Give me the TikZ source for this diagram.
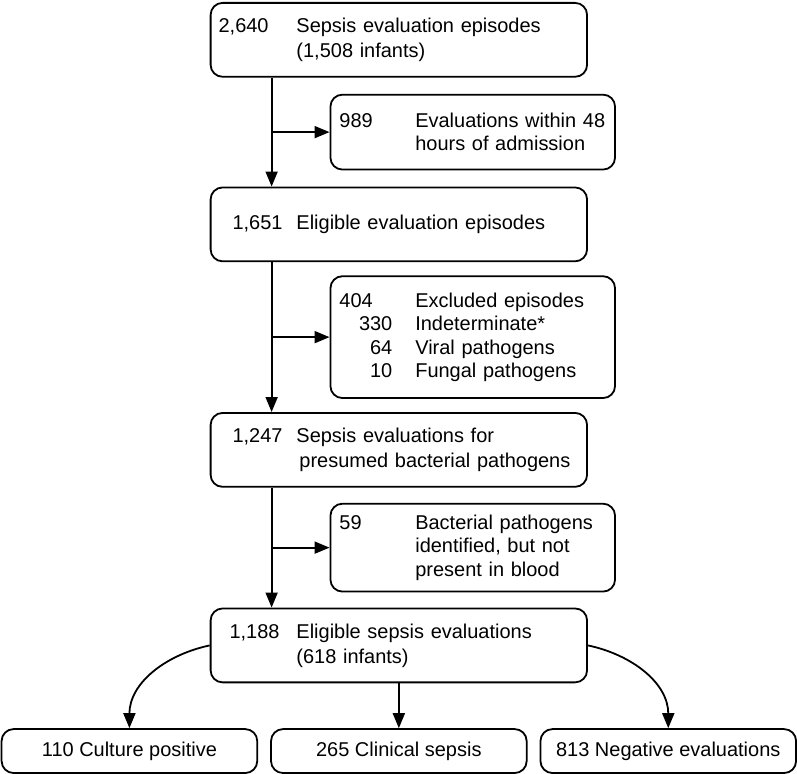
\documentclass[tikz,border=0pt]{standalone}
\usepackage{fontspec}
\setmainfont{Liberation Sans}
\usetikzlibrary{positioning, arrows.meta, calc}
\newcommand{\cnt}[1]{\makebox[39pt][l]{#1}}
\newcommand{\subcnt}[1]{\makebox[39pt][l]{\makebox[27.5pt][r]{#1}}}

\begin{document}
\begin{tikzpicture}[
node distance=1cm,
every node/.style={font=\fontsize{10}{12.5}\selectfont},
boxstyle/.style={draw, rounded corners=6pt, line width=0.9pt, align=left},
mainbox/.style={boxstyle, text width=180.5pt, inner xsep=4pt, minimum height=37pt},
sidebox/.style={boxstyle, text width=135.5pt, inner xsep=3.5pt, font=\fontsize{10}{11.75}\selectfont},
endbox/.style={boxstyle, minimum width=128pt, minimum height=22pt},
flow/.style={-{Triangle[length=7.5pt, width=6pt]}, line width=0.9pt}
]
% Main column
\node[mainbox] (n2640) {\cnt{2,640}Sepsis evaluation episodes\\\cnt{}(1,508 infants)};
\node[mainbox, below=54.5pt of n2640] (n1651) {\cnt{\hspace*{7pt}1,651}Eligible evaluation episodes};
\node[mainbox, below=75pt of n1651] (n1247) {\cnt{\hspace*{7pt}1,247}Sepsis evaluations for\\\cnt{}\hspace*{1.5pt}presumed bacterial pathogens};
\node[mainbox, below=60pt of n1247] (n1188) {\cnt{\hspace*{5.5pt}1,188}Eligible sepsis evaluations\\\cnt{}(618 infants)};
% Exclusions
\node[sidebox, minimum height=37.5pt, anchor=west] (n989) at ($(n2640.south west)!0.5!(n1651.north west)+(60pt,0)$) {\cnt{\hspace*{1pt}989}Evaluations within 48\\\cnt{}hours of admission};
\node[sidebox, minimum height=61pt, anchor=west] (n404) at ($(n1651.south west)!0.5!(n1247.north west)+(60pt,0)$) {\cnt{\hspace*{1pt}404}Excluded episodes\\\subcnt{330}Indeterminate*\\\subcnt{64}Viral pathogens\\\subcnt{10}Fungal pathogens};
\node[sidebox, minimum height=44pt, anchor=west] (n59) at ($(n1247.south west)!0.5!(n1188.north west)+(60pt,0)$) {\cnt{\hspace*{1pt}59}Bacterial pathogens\\\cnt{}identified, but not\\\cnt{}present in blood};
% Outcomes
\node[endbox, below=22.5pt of n1188] (n265) {265 Clinical sepsis};
\node[endbox, left=6pt of n265] (n110) {110 Culture positive};
\node[endbox, right=6pt of n265] (n813) {813 Negative evaluations};
% Connectors
\coordinate (trunk) at ($(n2640.south west)+(31pt,0)$);
\draw[flow] (trunk) -- (trunk |- n1651.north);
\draw[flow] (trunk |- n989.west) -- (n989.west);
\draw[flow] (trunk |- n1651.south) -- (trunk |- n1247.north);
\draw[flow] (trunk |- n404.west) -- (n404.west);
\draw[flow] (trunk |- n1247.south) -- (trunk |- n1188.north);
\draw[flow] (trunk |- n59.west) -- (n59.west);
\draw[flow] (n1188.west) to[out=192, in=90] (n110.north);
\draw[flow] (n1188.south) -- (n265.north);
\draw[flow] (n1188.east) to[out=-12, in=90] (n813.north);
\path[use as bounding box] ($(n2640.north west)+(-105pt,1pt)$) rectangle ($(n2640.north west)+(293.5pt,-382.5pt)$);
\end{tikzpicture}
\end{document}
